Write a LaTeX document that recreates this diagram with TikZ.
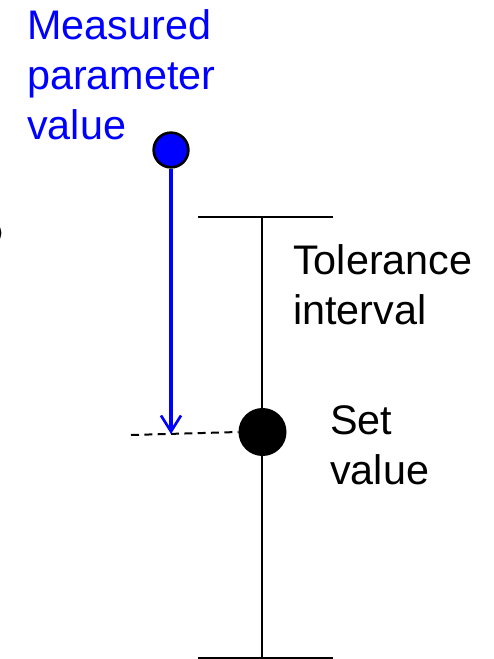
\documentclass[tikz,border=0pt]{standalone}
\usepackage{fontspec}
\setmainfont{Liberation Sans}
\usetikzlibrary{arrows.meta}
\begin{document}
\begin{tikzpicture}[x=0.75pt, y=-0.75pt,
  lbl/.style={font=\fontsize{31}{37.5}\selectfont, align=left, inner sep=0pt, anchor=base west},
  dot/.style={circle, draw=black, line width=2pt, inner sep=0pt},
  bar/.style={line width=2.2pt}]
  \useasboundingbox (0,0) rectangle (493,659);
  % Intervalo de tolerancia
  \coordinate (topL) at (198,217);
  \coordinate (topR) at (333,217);
  \coordinate (botL) at (198,658);
  \coordinate (botR) at (333,658);
  \coordinate (top) at (262,217);
  \coordinate (bot) at (262,658);
  \draw[bar] (topL) -- (topR);
  \draw[bar] (botL) -- (botR);
  \draw[bar] (top) -- (bot);
  % Valor nominal
  \node[dot, fill=black, minimum size=34pt] (set) at (262.5,432) {};
  % Valor medido
  \node[dot, fill=blue, minimum size=26pt] (meas) at (171,150) {};
  % Linea de referencia
  \coordinate (refL) at (131,435);
  \coordinate (hit) at (171,434);
  \draw[dashed, dash pattern=on 6pt off 4pt, line width=1.5pt] (refL) -- (set.west);
  \draw[blue, line width=2.4pt, -{Straight Barb[length=12pt, width=15pt, line width=2pt]}] (meas) -- (hit);
  % Marca del borde
  \draw[line width=2pt] (-11,233) circle (11);
  % Etiquetas
  \node[lbl, blue] (measlbl) at (27,140) {Measured\\parameter\\value};
  \node[lbl] (tollbl) at (293,324) {Tolerance\\interval};
  \node[lbl] (setlbl) at (330,484) {Set\\value};
\end{tikzpicture}
\end{document}
